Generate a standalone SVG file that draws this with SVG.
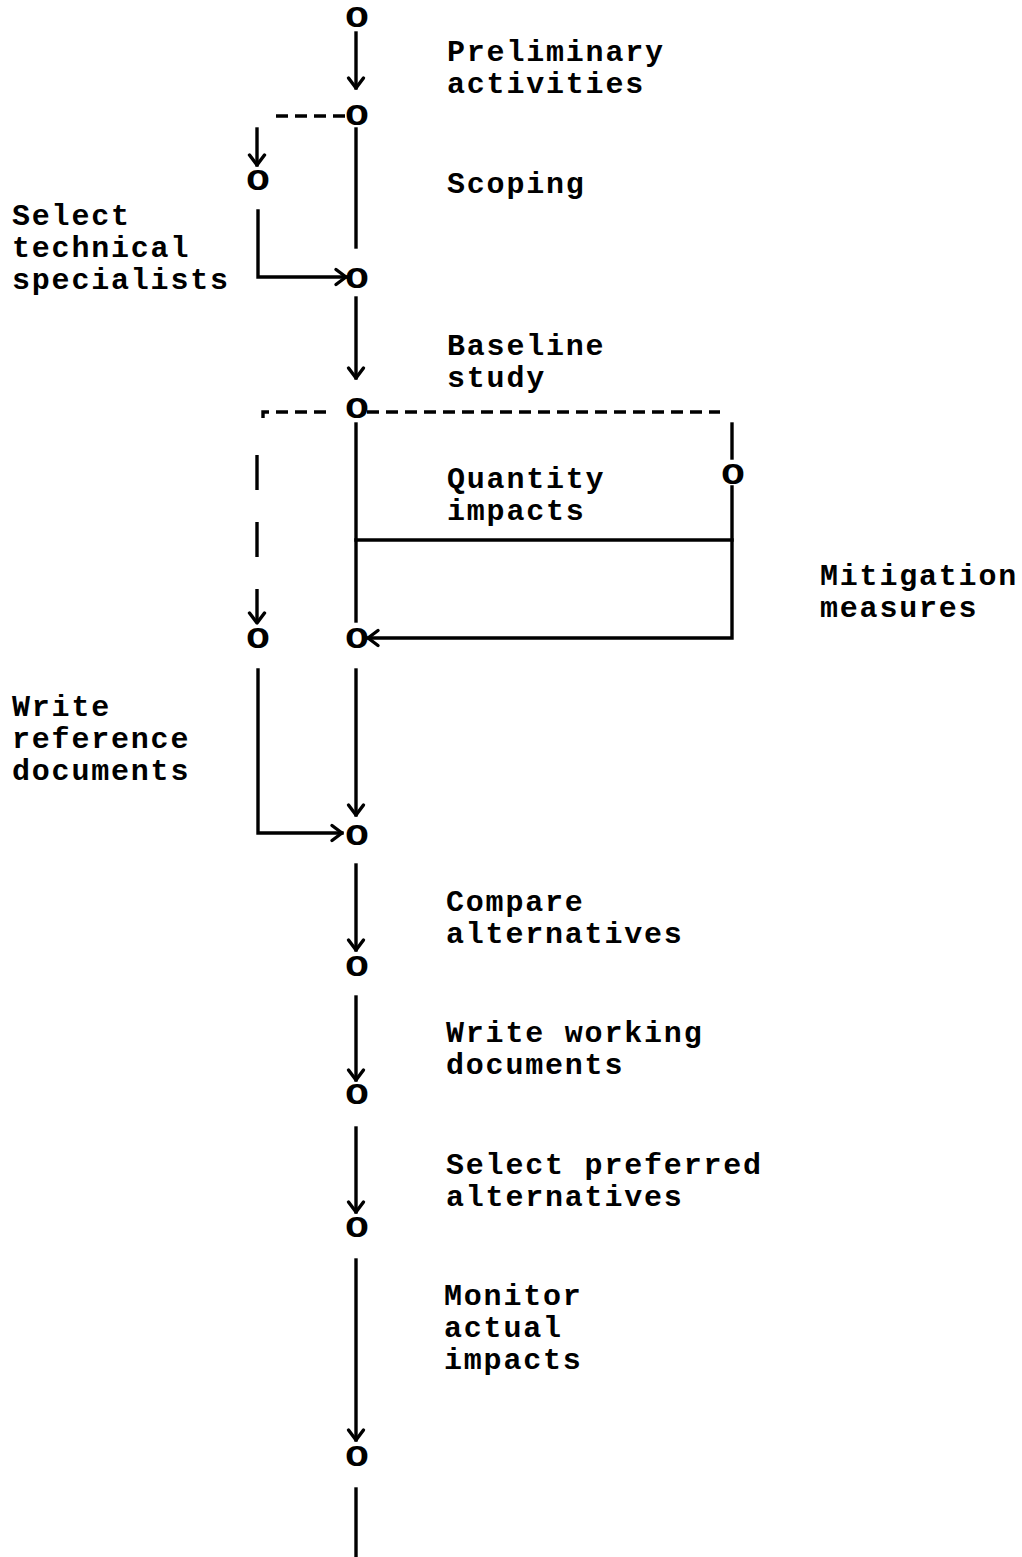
<svg xmlns="http://www.w3.org/2000/svg" width="1022" height="1557" viewBox="0 0 1022 1557">
  <style>
    .lbl { font-family: "Liberation Mono", "Courier New", monospace; font-weight: bold; font-size: 30px; letter-spacing: 1.8px; fill: #000; }
    .node { font-family: "Liberation Mono", "Courier New", monospace; font-weight: bold; font-size: 34px; fill: #000; text-anchor: middle; }
    .ln { fill: none; stroke: #000; stroke-width: 3.4; stroke-linecap: square; }
    .dash { stroke-dasharray: 12 7; stroke-linecap: butt; }
    .ldash { stroke-dasharray: 35 32; stroke-linecap: butt; }
    .arr { marker-end: url(#head); }
  </style>
  <defs>
    <marker id="head" markerUnits="userSpaceOnUse" markerWidth="24" markerHeight="24" viewBox="-12 -12 24 24" refX="0" refY="0" orient="auto" overflow="visible">
      <path d="M -10 -7.5 L 0 0 L -10 7.5" fill="none" stroke="#000" stroke-width="3.4" stroke-linecap="round" stroke-linejoin="round"/>
    </marker>
  </defs>

  <!-- connectors -->
  <g id="connectors">
    <path class="ln arr" d="M356 33 V88"/>
    <path class="ln dash" d="M345 116 H271"/>
    <path class="ln arr" d="M257 129 V165"/>
    <path class="ln" d="M356 129 V247"/>
    <path class="ln arr" d="M258 211 V277 H346"/>
    <path class="ln arr" d="M356 298 V378"/>
    <path class="ln dash" d="M326 412 H263 V419"/>
    <path class="ln dash" d="M367 412 H720"/>
    <path class="ln ldash arr" d="M257 455 V623"/>
    <path class="ln" d="M356 424 V621"/>
    <path class="ln" d="M732 424 V458"/>
    <path class="ln arr" d="M732 487 V638 H368"/>
    <path class="ln" d="M356 540 H732"/>
    <path class="ln arr" d="M258 670 V833 H342"/>
    <path class="ln arr" d="M356 670 V815"/>
    <path class="ln arr" d="M356 865 V950"/>
    <path class="ln arr" d="M356 997 V1080"/>
    <path class="ln arr" d="M356 1128 V1212"/>
    <path class="ln arr" d="M356 1260 V1440"/>
    <path class="ln" d="M356 1489 V1557"/>
  </g>

  <!-- event nodes (wide "O" marks) -->
  <g id="n-start"><text class="node" transform="translate(357 27) scale(1.15 0.86)">O</text></g>
  <g id="n-prelim"><text class="node" transform="translate(357 125) scale(1.15 0.86)">O</text></g>
  <g id="n-specialists-start"><text class="node" transform="translate(258 190) scale(1.15 0.86)">O</text></g>
  <g id="n-scoping"><text class="node" transform="translate(357 288) scale(1.15 0.86)">O</text></g>
  <g id="n-baseline"><text class="node" transform="translate(357 418) scale(1.15 0.86)">O</text></g>
  <g id="n-mitigation"><text class="node" transform="translate(733 484) scale(1.15 0.86)">O</text></g>
  <g id="n-reference-start"><text class="node" transform="translate(258 648) scale(1.15 0.86)">O</text></g>
  <g id="n-impacts"><text class="node" transform="translate(357 648) scale(1.15 0.86)">O</text></g>
  <g id="n-merge"><text class="node" transform="translate(357 845) scale(1.15 0.86)">O</text></g>
  <g id="n-compare"><text class="node" transform="translate(357 976) scale(1.15 0.86)">O</text></g>
  <g id="n-working"><text class="node" transform="translate(357 1104) scale(1.15 0.86)">O</text></g>
  <g id="n-preferred"><text class="node" transform="translate(357 1237) scale(1.15 0.86)">O</text></g>
  <g id="n-monitor"><text class="node" transform="translate(357 1466) scale(1.15 0.86)">O</text></g>

  <!-- activity labels -->
  <g id="labels">
    <text class="lbl" x="447" y="61">Preliminary</text>
    <text class="lbl" x="447" y="93">activities</text>
    <text class="lbl" x="447" y="193">Scoping</text>
    <text class="lbl" x="12" y="225">Select</text>
    <text class="lbl" x="12" y="257">technical</text>
    <text class="lbl" x="12" y="289">specialists</text>
    <text class="lbl" x="447" y="355">Baseline</text>
    <text class="lbl" x="447" y="387">study</text>
    <text class="lbl" x="447" y="488">Quantity</text>
    <text class="lbl" x="447" y="520">impacts</text>
    <text class="lbl" x="820" y="585">Mitigation</text>
    <text class="lbl" x="820" y="617">measures</text>
    <text class="lbl" x="12" y="716">Write</text>
    <text class="lbl" x="12" y="748">reference</text>
    <text class="lbl" x="12" y="780">documents</text>
    <text class="lbl" x="446" y="911">Compare</text>
    <text class="lbl" x="446" y="943">alternatives</text>
    <text class="lbl" x="446" y="1042">Write working</text>
    <text class="lbl" x="446" y="1074">documents</text>
    <text class="lbl" x="446" y="1174">Select preferred</text>
    <text class="lbl" x="446" y="1206">alternatives</text>
    <text class="lbl" x="444" y="1305">Monitor</text>
    <text class="lbl" x="444" y="1337">actual</text>
    <text class="lbl" x="444" y="1369">impacts</text>
  </g>
</svg>
